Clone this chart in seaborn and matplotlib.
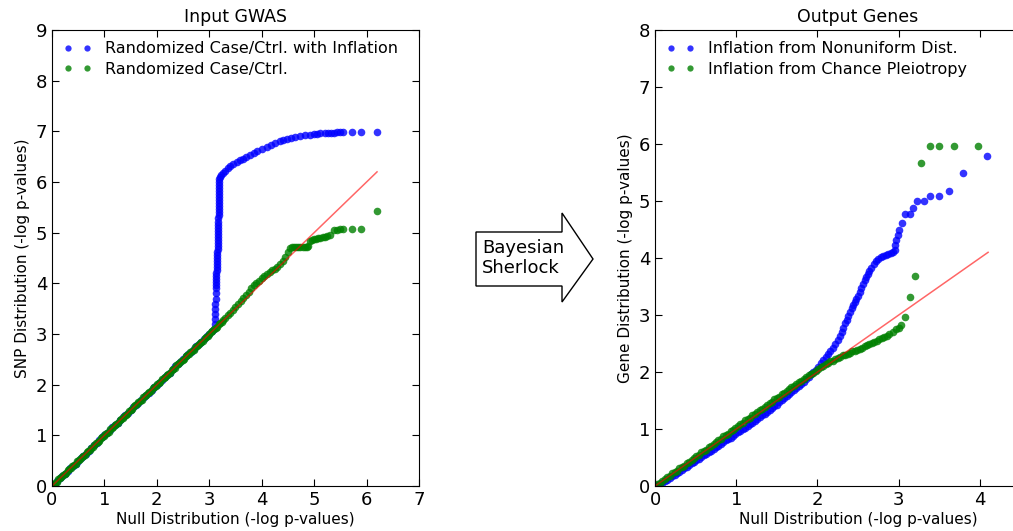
import matplotlib
matplotlib.use("Agg")
import matplotlib.pyplot as plt
import seaborn as sns
from matplotlib.lines import Line2D
from matplotlib.patches import Polygon

# ---- Input GWAS : null quantiles / observed quantiles ----
gwas_infl_null = [0.00, 0.05, 0.10, 0.15, 0.20, 0.25, 0.30, 0.35, 0.40, 0.45, 0.50, 0.55, 0.60, 0.65, 0.70,
                  0.75, 0.80, 0.85, 0.90, 0.95, 1.00, 1.05, 1.10, 1.15, 1.20, 1.25, 1.30, 1.35, 1.40, 1.45,
                  1.50, 1.55, 1.60, 1.65, 1.70, 1.75, 1.80, 1.85, 1.90, 1.95, 2.00, 2.05, 2.10, 2.15, 2.20,
                  2.25, 2.30, 2.35, 2.40, 2.45, 2.50, 2.55, 2.60, 2.65, 2.70, 2.75, 2.80, 2.85, 2.90, 2.95,
                  3.00, 3.05,
                  3.10, 3.11, 3.11, 3.11, 3.11, 3.11, 3.12, 3.12, 3.12, 3.12, 3.12, 3.13, 3.13, 3.13, 3.14,
                  3.14, 3.14, 3.15, 3.15, 3.15, 3.15, 3.16, 3.16, 3.16, 3.16, 3.16, 3.17, 3.17, 3.17, 3.17,
                  3.17, 3.17, 3.18, 3.18, 3.18, 3.18, 3.18, 3.19, 3.19, 3.19, 3.19, 3.19, 3.19, 3.19, 3.19,
                  3.20,
                  3.22, 3.26, 3.30, 3.35, 3.40, 3.46, 3.52, 3.58, 3.64, 3.70, 3.78, 3.85, 3.92, 4.00, 4.10,
                  4.18, 4.26, 4.34, 4.41, 4.48, 4.56, 4.64, 4.73, 4.82, 4.92, 5.00, 5.05, 5.12, 5.20, 5.27,
                  5.33, 5.37, 5.43, 5.50, 5.56, 5.72, 5.90, 6.20]
gwas_infl_obs = [0.00, 0.04, 0.10, 0.16, 0.20, 0.24, 0.30, 0.36, 0.40, 0.44, 0.50, 0.56, 0.60, 0.64, 0.70,
                 0.76, 0.80, 0.84, 0.90, 0.96, 1.00, 1.04, 1.10, 1.16, 1.20, 1.24, 1.30, 1.36, 1.40, 1.44,
                 1.50, 1.56, 1.60, 1.64, 1.70, 1.76, 1.80, 1.84, 1.90, 1.96, 2.00, 2.04, 2.10, 2.16, 2.20,
                 2.24, 2.30, 2.36, 2.40, 2.44, 2.50, 2.56, 2.60, 2.64, 2.70, 2.76, 2.80, 2.84, 2.90, 2.96,
                 3.00, 3.05,
                 3.10, 3.20, 3.30, 3.40, 3.50, 3.60, 3.70, 3.80, 3.90, 3.97, 4.02, 4.08, 4.14, 4.20, 4.26,
                 4.32, 4.38, 4.44, 4.50, 4.56, 4.62, 4.68, 4.74, 4.80, 4.86, 4.92, 4.98, 5.04, 5.10, 5.16,
                 5.22, 5.28, 5.34, 5.40, 5.46, 5.52, 5.58, 5.64, 5.70, 5.76, 5.82, 5.88, 5.94, 6.00, 6.06,
                 6.10,
                 6.14, 6.18, 6.22, 6.27, 6.31, 6.36, 6.40, 6.43, 6.46, 6.50, 6.53, 6.57, 6.61, 6.65, 6.69,
                 6.73, 6.77, 6.80, 6.82, 6.85, 6.87, 6.89, 6.90, 6.92, 6.93, 6.94, 6.95, 6.96, 6.96, 6.97,
                 6.97, 6.97, 6.98, 6.98, 6.98, 6.98, 6.98, 6.98]

gwas_rand_null = [0.00, 0.03, 0.06, 0.09, 0.12, 0.15, 0.18, 0.21, 0.24, 0.27, 0.30, 0.33, 0.36, 0.39, 0.42,
                  0.45, 0.48, 0.51, 0.54, 0.57, 0.60, 0.63, 0.66, 0.69, 0.72, 0.75, 0.78, 0.81, 0.84, 0.87,
                  0.90, 0.93, 0.96, 0.99, 1.02, 1.05, 1.08, 1.11, 1.14, 1.17, 1.20, 1.23, 1.26, 1.29, 1.32,
                  1.35, 1.38, 1.41, 1.44, 1.47, 1.50, 1.53, 1.56, 1.59, 1.62, 1.65, 1.68, 1.71, 1.74, 1.77,
                  1.80, 1.83, 1.86, 1.89, 1.92, 1.95, 1.98, 2.01, 2.04, 2.07, 2.10, 2.13, 2.16, 2.19, 2.22,
                  2.25, 2.28, 2.31, 2.34, 2.37, 2.40, 2.43, 2.46, 2.49, 2.52, 2.55, 2.58, 2.61, 2.64, 2.67,
                  2.70, 2.73, 2.76, 2.79, 2.82, 2.85, 2.88, 2.91, 2.94, 2.97, 3.00, 3.03, 3.06, 3.09, 3.12,
                  3.15, 3.18, 3.21, 3.24, 3.27, 3.30,
                  3.35, 3.40, 3.45, 3.50, 3.55, 3.60, 3.65, 3.70, 3.75, 3.80, 3.85, 3.90, 3.95, 4.00, 4.05,
                  4.10, 4.15, 4.20, 4.25, 4.30, 4.35, 4.40, 4.45, 4.50, 4.54, 4.58, 4.62, 4.66, 4.70, 4.74,
                  4.78, 4.82, 4.86, 4.89, 4.92, 4.96, 5.00, 5.04, 5.08, 5.12, 5.16, 5.20, 5.25, 5.30, 5.37,
                  5.43, 5.50, 5.56, 5.72, 5.90, 6.20]
gwas_rand_obs = [0.00, 0.04, 0.06, 0.08, 0.13, 0.15, 0.17, 0.22, 0.24, 0.26, 0.31, 0.33, 0.35, 0.40, 0.42,
                 0.44, 0.49, 0.51, 0.53, 0.58, 0.60, 0.62, 0.67, 0.69, 0.71, 0.76, 0.78, 0.80, 0.85, 0.87,
                 0.89, 0.94, 0.96, 0.98, 1.03, 1.05, 1.07, 1.12, 1.14, 1.16, 1.21, 1.23, 1.25, 1.30, 1.32,
                 1.34, 1.39, 1.41, 1.43, 1.48, 1.50, 1.52, 1.57, 1.59, 1.61, 1.66, 1.68, 1.70, 1.75, 1.77,
                 1.79, 1.84, 1.86, 1.88, 1.93, 1.95, 1.97, 2.02, 2.04, 2.06, 2.11, 2.13, 2.15, 2.20, 2.22,
                 2.24, 2.29, 2.31, 2.33, 2.38, 2.40, 2.42, 2.47, 2.49, 2.51, 2.56, 2.58, 2.60, 2.65, 2.67,
                 2.69, 2.74, 2.76, 2.78, 2.83, 2.85, 2.87, 2.92, 2.94, 2.96, 3.01, 3.03, 3.05, 3.10, 3.12,
                 3.14, 3.19, 3.21, 3.23, 3.28, 3.31,
                 3.37, 3.41, 3.47, 3.54, 3.60, 3.66, 3.72, 3.77, 3.83, 3.90, 3.96, 4.01, 4.05, 4.10, 4.15,
                 4.19, 4.22, 4.26, 4.29, 4.33, 4.38, 4.44, 4.52, 4.62, 4.69, 4.71, 4.72, 4.72, 4.72, 4.72,
                 4.72, 4.72, 4.72, 4.73, 4.83, 4.86, 4.87, 4.88, 4.89, 4.90, 4.91, 4.92, 4.94, 4.96, 5.06,
                 5.06, 5.07, 5.07, 5.07, 5.07, 5.42]

# ---- Output Genes ----
gene_nonunif_null = [0.00, 0.03, 0.06, 0.09, 0.12, 0.15, 0.18, 0.21, 0.24, 0.27, 0.30, 0.33, 0.36, 0.39,
                     0.42, 0.45, 0.48, 0.51, 0.54, 0.57, 0.60, 0.63, 0.66, 0.69, 0.72, 0.75, 0.78, 0.81,
                     0.84, 0.87, 0.90, 0.93, 0.96, 0.99, 1.02, 1.05, 1.08, 1.11, 1.14, 1.17, 1.20, 1.23,
                     1.26, 1.29, 1.32, 1.35, 1.38, 1.41, 1.44, 1.47, 1.50, 1.53, 1.56, 1.59, 1.62, 1.65,
                     1.68, 1.71, 1.74, 1.77,
                     1.80, 1.83, 1.86, 1.89, 1.92, 1.95, 1.98, 2.01, 2.04, 2.07,
                     2.10, 2.13, 2.16, 2.19, 2.22, 2.25, 2.28,
                     2.30, 2.32, 2.34, 2.36, 2.38, 2.40, 2.42, 2.44, 2.46, 2.48, 2.50, 2.52, 2.54, 2.56,
                     2.58, 2.60, 2.62, 2.64, 2.66, 2.69, 2.72, 2.75, 2.78, 2.81, 2.84, 2.87, 2.90, 2.93,
                     2.95, 2.96, 2.97, 2.99, 3.00,
                     3.04, 3.08, 3.14, 3.18, 3.23, 3.31, 3.39, 3.49, 3.62, 3.79, 4.09]
gene_nonunif_obs = [0.00, 0.02, 0.04, 0.06, 0.09, 0.11, 0.14, 0.17, 0.20, 0.22, 0.25, 0.28, 0.31, 0.34,
                    0.37, 0.40, 0.42, 0.45, 0.48, 0.51, 0.54, 0.57, 0.60, 0.62, 0.65, 0.68, 0.71, 0.74,
                    0.77, 0.80, 0.82, 0.85, 0.88, 0.91, 0.94, 0.97, 1.00, 1.02, 1.05, 1.08, 1.11, 1.14,
                    1.17, 1.21, 1.24, 1.27, 1.30, 1.33, 1.37, 1.40, 1.43, 1.47, 1.51, 1.54, 1.58, 1.61,
                    1.65, 1.68, 1.72, 1.76,
                    1.79, 1.83, 1.87, 1.91, 1.96, 2.00, 2.04, 2.09, 2.15, 2.21,
                    2.27, 2.32, 2.37, 2.43, 2.49, 2.56, 2.63,
                    2.70, 2.78, 2.86, 2.92, 2.98, 3.06, 3.13, 3.18, 3.22, 3.28, 3.33, 3.40, 3.48, 3.55,
                    3.62, 3.66, 3.72, 3.78, 3.83, 3.89, 3.94, 3.98, 4.01, 4.03, 4.05, 4.07, 4.09, 4.11,
                    4.14, 4.22, 4.32, 4.40, 4.49,
                    4.61, 4.78, 4.78, 4.88, 5.00, 5.00, 5.09, 5.09, 5.18, 5.49, 5.79]

gene_pleio_null = [0.00, 0.03, 0.06, 0.09, 0.12, 0.15, 0.18, 0.21, 0.24, 0.27, 0.30, 0.33, 0.36, 0.39,
                   0.42, 0.45, 0.48, 0.51, 0.54, 0.57, 0.60, 0.63, 0.66, 0.69, 0.72, 0.75, 0.78, 0.81,
                   0.84, 0.87, 0.90, 0.93, 0.96, 0.99, 1.02, 1.05, 1.08, 1.11, 1.14, 1.17, 1.20, 1.23,
                   1.26, 1.29, 1.32, 1.35, 1.38, 1.41, 1.44, 1.47, 1.50, 1.53, 1.56, 1.59, 1.62, 1.65,
                   1.68, 1.71, 1.74, 1.77, 1.80, 1.83, 1.86, 1.89, 1.92, 1.95,
                   1.98, 2.01, 2.04, 2.07, 2.10, 2.13, 2.16, 2.19, 2.22, 2.25, 2.28, 2.31, 2.34, 2.37,
                   2.40, 2.43, 2.46, 2.49, 2.52, 2.55, 2.58, 2.61, 2.64, 2.67, 2.70, 2.73, 2.76, 2.79,
                   2.82, 2.85, 2.88,
                   2.93, 2.97, 3.00, 3.03, 3.08, 3.14, 3.20, 3.28, 3.38, 3.49, 3.68, 3.98]
gene_pleio_obs = [0.00, 0.04, 0.06, 0.08, 0.13, 0.15, 0.17, 0.23, 0.25, 0.27, 0.32, 0.34, 0.36, 0.41,
                  0.43, 0.45, 0.50, 0.52, 0.55, 0.60, 0.62, 0.64, 0.69, 0.71, 0.73, 0.78, 0.80, 0.82,
                  0.88, 0.90, 0.92, 0.97, 0.99, 1.01, 1.06, 1.08, 1.10, 1.15, 1.17, 1.20, 1.25, 1.27,
                  1.29, 1.34, 1.36, 1.38, 1.43, 1.45, 1.47, 1.52, 1.54, 1.57, 1.61, 1.64, 1.66, 1.70,
                  1.73, 1.75, 1.79, 1.82, 1.84, 1.88, 1.91, 1.94, 1.97, 1.99,
                  2.02, 2.05, 2.08, 2.11, 2.14, 2.16, 2.19, 2.20, 2.22, 2.25, 2.27, 2.29, 2.30, 2.32,
                  2.34, 2.36, 2.37, 2.39, 2.41, 2.43, 2.45, 2.47, 2.49, 2.51, 2.53, 2.55, 2.58, 2.60,
                  2.62, 2.64, 2.67,
                  2.71, 2.76, 2.78, 2.82, 2.96, 3.32, 3.68, 5.66, 5.96, 5.96, 5.96, 5.96]

left_ref = [0.0, 6.2]
right_ref = [0.0, 4.1]

tick_fs = 13
label_fs = 11

fig = plt.figure(figsize=(10.13, 5.31), dpi=100)
ax1 = fig.add_axes([0.0513, 0.0847, 0.3623, 0.8588])
ax2 = fig.add_axes([0.6466, 0.0847, 0.401, 0.8588])


def draw_qq(ax, ref, series, xmax, ymax, title, ylabel, labels):
    # ligne de référence y = x, puis les deux nuages de points
    sns.lineplot(x=ref, y=ref, ax=ax, color='r', alpha=0.6, linewidth=1.1, sort=False)
    for (nx, ny), col in zip(series, ['b', 'g']):
        sns.scatterplot(x=nx, y=ny, ax=ax, color=col, alpha=0.8, s=30, linewidth=0, legend=False)
    ax.set_xlim(0, xmax)
    ax.set_ylim(0, ymax)
    ax.set_xticks(range(0, int(xmax) + 1))
    ax.set_yticks(range(0, ymax + 1))
    ax.tick_params(direction='in', top=True, right=True, length=5, labelsize=tick_fs)
    ax.set_title(title, fontsize=12.5)
    ax.set_xlabel('Null Distribution (-log p-values)', fontsize=label_fs, labelpad=2)
    ax.set_ylabel(ylabel, fontsize=label_fs)
    handles = [Line2D([0], [0], linestyle='', marker='o', markersize=4.5, markeredgewidth=0,
                      color=c, alpha=0.8) for c in ['b', 'g']]
    ax.legend(handles, labels, loc='upper left', frameon=False, numpoints=2,
              fontsize=11.5, handlelength=1.8, borderaxespad=0.3, labelspacing=0.35)


draw_qq(ax1, left_ref, [(gwas_infl_null, gwas_infl_obs), (gwas_rand_null, gwas_rand_obs)],
        7, 9, 'Input GWAS', 'SNP Distribution (-log p-values)',
        ['Randomized Case/Ctrl. with Inflation', 'Randomized Case/Ctrl.'])
draw_qq(ax2, right_ref, [(gene_nonunif_null, gene_nonunif_obs), (gene_pleio_null, gene_pleio_obs)],
        5, 8, 'Output Genes', 'Gene Distribution (-log p-values)',
        ['Inflation from Nonuniform Dist.', 'Inflation from Chance Pleiotropy'])
ax2.set_xticks([0, 1, 2, 3, 4])

# flèche "Bayesian Sherlock" entre les deux panneaux
W, H = 1013.0, 531.0
arrow_px = [(476, 232), (562, 232), (562, 213), (593, 259), (562, 302), (562, 286), (476, 286)]
arrow = Polygon([(px / W, 1 - py / H) for px, py in arrow_px], closed=True,
                transform=fig.transFigure, facecolor='white', edgecolor='black', linewidth=1.0)
fig.patches.append(arrow)
fig.text(482 / W, 1 - 258 / H, 'Bayesian\nSherlock', fontsize=13, ha='left', va='center',
         linespacing=1.1)

fig.savefig('out.png', dpi=100)
